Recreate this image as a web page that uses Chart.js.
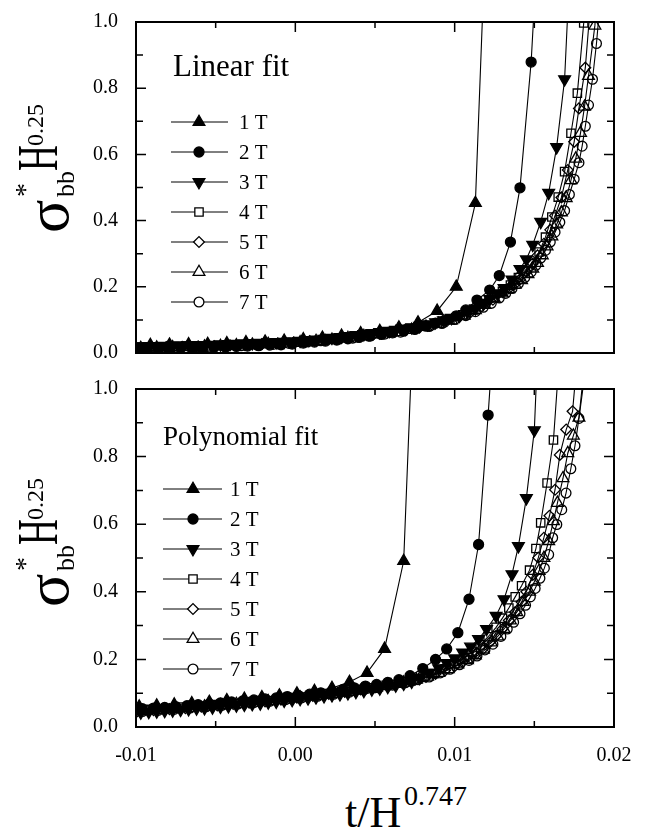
<!DOCTYPE html>
<html><head><meta charset="utf-8">
<script src="https://cdn.jsdelivr.net/npm/chart.js@4.4.1/dist/chart.umd.min.js"></script>
<style>
html,body{margin:0;padding:0;background:#fff}
body{width:650px;height:833px;position:relative;overflow:hidden;font-family:"Liberation Serif","Times New Roman",serif;color:#000}
canvas{position:absolute;left:0}
#cTop{top:0}
#cBot{top:367px}
.lab{position:absolute;white-space:nowrap;line-height:1}
.rot{position:absolute;width:240px;height:120px;transform:translate(-50%,-50%) rotate(-90deg)}
.rot span{position:absolute;line-height:1;white-space:nowrap}
</style></head><body>
<canvas id="cTop" width="650" height="380"></canvas>
<canvas id="cBot" width="650" height="413"></canvas>
<script>
// ---------------- DATA ----------------
const seriesLabels = ['1 T','2 T','3 T','4 T','5 T','6 T','7 T'];
const panelTitles = ['Linear fit','Polynomial fit'];
const xTickValues = [-0.01,-0.005,0,0.005,0.01,0.015,0.02];
const xTickLabels = ['-0.01','','0.00','','0.01','','0.02'];
const yTickValues = [0,0.1,0.2,0.3,0.4,0.5,0.6,0.7,0.8,0.9,1.0];
const yTickLabels = ['0.0','','0.2','','0.4','','0.6','','0.8','','1.0'];

// Linear fit panel
const lin1Tx = [-0.0103,-0.0091,-0.0079,-0.0067,-0.0055,-0.0043,-0.0031,-0.0019,-0.0007,0.0005,0.0017,0.0029,0.0041,0.0053,0.0065,0.0077,0.0089,0.0101,0.0113,0.0125];
const lin1Ty = [0.023,0.024,0.025,0.026,0.027,0.029,0.032,0.034,0.037,0.041,0.046,0.052,0.059,0.066,0.077,0.092,0.127,0.200,0.453,1.970];
const lin2Tx = [-0.0100,-0.0093,-0.0086,-0.0079,-0.0072,-0.0065,-0.0058,-0.0051,-0.0044,-0.0037,-0.0030,-0.0023,-0.0016,-0.0009,-0.0002,0.0005,0.0012,0.0019,0.0026,0.0033,0.0040,0.0047,0.0054,0.0061,0.0068,0.0075,0.0082,0.0088,0.0094,0.0101,0.0107,0.0114,0.0122,0.0128,0.0135,0.0141,0.0148,0.0154];
const lin2Ty = [0.012,0.013,0.013,0.014,0.015,0.016,0.016,0.017,0.018,0.020,0.021,0.022,0.024,0.025,0.027,0.030,0.033,0.036,0.039,0.043,0.047,0.051,0.056,0.061,0.066,0.073,0.081,0.090,0.100,0.112,0.130,0.160,0.190,0.234,0.335,0.499,0.879,1.400];
const lin3Tx = [-0.0102,-0.0097,-0.0092,-0.0087,-0.0082,-0.0077,-0.0072,-0.0067,-0.0062,-0.0057,-0.0052,-0.0047,-0.0042,-0.0037,-0.0032,-0.0027,-0.0022,-0.0017,-0.0012,-0.0007,-0.0002,0.0003,0.0008,0.0013,0.0018,0.0023,0.0028,0.0033,0.0038,0.0043,0.0048,0.0053,0.0058,0.0063,0.0068,0.0073,0.0078,0.0083,0.0088,0.0093,0.0098,0.0103,0.0108,0.0113,0.0118,0.0122,0.0127,0.0131,0.0136,0.0141,0.0145,0.0149,0.0154,0.0159,0.0164,0.0169,0.0174];
const lin3Ty = [0.020,0.020,0.021,0.021,0.022,0.022,0.023,0.023,0.024,0.024,0.025,0.026,0.027,0.028,0.029,0.030,0.031,0.032,0.033,0.034,0.035,0.037,0.039,0.041,0.043,0.046,0.048,0.051,0.054,0.057,0.060,0.063,0.067,0.070,0.074,0.078,0.082,0.087,0.093,0.099,0.106,0.113,0.124,0.135,0.149,0.163,0.180,0.196,0.222,0.254,0.283,0.327,0.396,0.484,0.622,0.827,1.340];
const lin4Tx = [-0.0099,-0.0089,-0.0079,-0.0069,-0.0059,-0.0049,-0.0039,-0.0029,-0.0019,-0.0009,0.0001,0.0011,0.0021,0.0031,0.0041,0.0051,0.0061,0.0071,0.0080,0.0089,0.0097,0.0105,0.0112,0.0119,0.0125,0.0130,0.0135,0.0140,0.0144,0.0148,0.0153,0.0157,0.0161,0.0165,0.0169,0.0173,0.0177,0.0181,0.0185];
const lin4Ty = [0.017,0.018,0.019,0.020,0.021,0.022,0.024,0.026,0.028,0.030,0.033,0.037,0.041,0.046,0.052,0.058,0.065,0.072,0.081,0.090,0.101,0.115,0.130,0.149,0.168,0.186,0.205,0.228,0.248,0.270,0.305,0.350,0.411,0.471,0.548,0.664,0.785,0.997,1.300];
const lin5Tx = [-0.0101,-0.0091,-0.0081,-0.0071,-0.0061,-0.0051,-0.0041,-0.0031,-0.0021,-0.0011,-0.0001,0.0009,0.0019,0.0029,0.0039,0.0049,0.0059,0.0069,0.0078,0.0087,0.0095,0.0103,0.0110,0.0117,0.0124,0.0130,0.0134,0.0137,0.0141,0.0145,0.0149,0.0152,0.0156,0.0160,0.0163,0.0167,0.0171,0.0175,0.0178,0.0182,0.0186];
const lin5Ty = [0.016,0.017,0.018,0.019,0.020,0.021,0.023,0.025,0.027,0.029,0.032,0.036,0.040,0.045,0.050,0.056,0.062,0.069,0.077,0.087,0.096,0.109,0.123,0.141,0.161,0.184,0.195,0.205,0.222,0.245,0.270,0.295,0.330,0.372,0.415,0.470,0.553,0.638,0.739,0.862,1.100];
const lin6Tx = [-0.0097,-0.0087,-0.0077,-0.0067,-0.0057,-0.0047,-0.0037,-0.0027,-0.0017,-0.0007,0.0003,0.0013,0.0023,0.0033,0.0043,0.0053,0.0063,0.0073,0.0082,0.0090,0.0098,0.0106,0.0113,0.0119,0.0125,0.0130,0.0134,0.0138,0.0142,0.0146,0.0149,0.0152,0.0155,0.0158,0.0161,0.0164,0.0167,0.0170,0.0173,0.0176,0.0179,0.01815,0.0184,0.0188,0.0191];
const lin6Ty = [0.015,0.016,0.017,0.018,0.019,0.021,0.023,0.025,0.027,0.029,0.032,0.036,0.040,0.045,0.051,0.057,0.063,0.070,0.079,0.088,0.098,0.113,0.129,0.145,0.164,0.180,0.193,0.206,0.220,0.238,0.255,0.272,0.295,0.322,0.352,0.388,0.425,0.468,0.522,0.587,0.665,0.744,0.837,0.989,1.200];
const lin7Tx = [-0.0104,-0.0094,-0.0084,-0.0074,-0.0064,-0.0054,-0.0044,-0.0034,-0.0024,-0.0014,-0.0004,0.0006,0.0016,0.0026,0.0036,0.0046,0.0056,0.0066,0.0075,0.0084,0.0092,0.0100,0.0107,0.0113,0.0118,0.0123,0.0128,0.0132,0.0136,0.0140,0.0144,0.0148,0.0151,0.0154,0.0157,0.0160,0.0163,0.0166,0.0169,0.0172,0.0175,0.0178,0.0180,0.0182,0.0184,0.01865,0.0189,0.0192];
const lin7Ty = [0.013,0.014,0.015,0.016,0.017,0.018,0.020,0.022,0.024,0.026,0.029,0.033,0.037,0.041,0.045,0.051,0.057,0.063,0.071,0.080,0.089,0.101,0.113,0.125,0.138,0.150,0.166,0.180,0.195,0.210,0.228,0.245,0.265,0.287,0.310,0.335,0.365,0.395,0.430,0.479,0.525,0.575,0.625,0.685,0.749,0.827,0.935,1.100];

// Polynomial fit panel
const poly1Tx = [-0.0109,-0.0098,-0.0087,-0.0076,-0.0065,-0.0054,-0.0043,-0.0032,-0.0021,-0.0010,0.0001,0.0012,0.0023,0.0034,0.0045,0.0056,0.0068,0.0080];
const poly1Ty = [0.056,0.060,0.063,0.066,0.070,0.074,0.079,0.083,0.088,0.093,0.099,0.106,0.115,0.133,0.160,0.231,0.491,1.920];
const poly2Tx = [-0.0103,-0.0096,-0.0089,-0.0082,-0.0075,-0.0068,-0.0061,-0.0054,-0.0047,-0.0040,-0.0033,-0.0026,-0.0019,-0.0012,-0.0005,0.0002,0.0009,0.0016,0.0023,0.0030,0.0037,0.0044,0.0051,0.0058,0.0065,0.0072,0.0080,0.0088,0.0095,0.0102,0.0109,0.0115,0.0121,0.0128];
const poly2Ty = [0.052,0.054,0.056,0.058,0.060,0.063,0.066,0.068,0.071,0.074,0.077,0.080,0.083,0.086,0.090,0.093,0.097,0.101,0.106,0.111,0.116,0.121,0.126,0.132,0.140,0.152,0.173,0.200,0.231,0.279,0.378,0.540,0.923,1.410];
const poly3Tx = [-0.0102,-0.0097,-0.0092,-0.0087,-0.0082,-0.0077,-0.0072,-0.0067,-0.0062,-0.0057,-0.0052,-0.0047,-0.0042,-0.0037,-0.0032,-0.0027,-0.0022,-0.0017,-0.0012,-0.0007,-0.0002,0.0003,0.0008,0.0013,0.0018,0.0023,0.0028,0.0033,0.0038,0.0043,0.0048,0.0053,0.0058,0.0063,0.0068,0.0073,0.0078,0.0084,0.0090,0.0095,0.0100,0.0105,0.0110,0.0115,0.0120,0.0126,0.0131,0.0136,0.0140,0.0145,0.0150,0.0155];
const poly3Ty = [0.042,0.043,0.045,0.046,0.048,0.049,0.051,0.053,0.055,0.056,0.058,0.060,0.062,0.064,0.066,0.068,0.070,0.073,0.075,0.078,0.080,0.083,0.085,0.088,0.091,0.094,0.097,0.100,0.104,0.107,0.111,0.114,0.119,0.123,0.128,0.134,0.145,0.160,0.174,0.189,0.203,0.220,0.238,0.260,0.290,0.329,0.378,0.452,0.535,0.677,0.878,1.450];
const poly4Tx = [-0.0101,-0.0091,-0.0081,-0.0071,-0.0061,-0.0051,-0.0041,-0.0031,-0.0021,-0.0011,-0.0001,0.0009,0.0019,0.0029,0.0039,0.0048,0.0057,0.0065,0.0073,0.0080,0.0087,0.0094,0.0100,0.0106,0.0111,0.0116,0.0121,0.0126,0.0130,0.0134,0.0138,0.0142,0.0147,0.0151,0.0154,0.0158,0.0162,0.0165];
const poly4Ty = [0.049,0.052,0.055,0.059,0.062,0.066,0.070,0.074,0.078,0.082,0.087,0.093,0.098,0.104,0.110,0.116,0.123,0.130,0.138,0.147,0.158,0.172,0.187,0.205,0.222,0.243,0.267,0.295,0.322,0.352,0.385,0.418,0.464,0.528,0.604,0.722,0.849,1.050];
const poly5Tx = [-0.0099,-0.0089,-0.0079,-0.0069,-0.0059,-0.0049,-0.0039,-0.0029,-0.0019,-0.0009,0.0001,0.0011,0.0021,0.0031,0.0041,0.0050,0.0059,0.0067,0.0075,0.0082,0.0088,0.0094,0.0100,0.0105,0.0110,0.0114,0.0118,0.0122,0.0126,0.0130,0.0134,0.0138,0.0142,0.0145,0.0149,0.01525,0.0156,0.01595,0.0163,0.0166,0.0170,0.0174,0.0178];
const poly5Ty = [0.047,0.050,0.053,0.056,0.060,0.064,0.068,0.072,0.076,0.081,0.087,0.092,0.098,0.104,0.111,0.117,0.124,0.131,0.139,0.148,0.157,0.167,0.180,0.192,0.205,0.218,0.232,0.250,0.270,0.290,0.315,0.340,0.370,0.400,0.450,0.501,0.560,0.625,0.702,0.805,0.880,0.934,1.150];
const poly6Tx = [-0.0107,-0.0097,-0.0087,-0.0077,-0.0067,-0.0057,-0.0047,-0.0037,-0.0027,-0.0017,-0.0007,0.0003,0.0013,0.0023,0.0033,0.0042,0.0051,0.0060,0.0068,0.0076,0.0083,0.0090,0.0096,0.0102,0.0108,0.0113,0.0118,0.0123,0.0127,0.0131,0.0135,0.0139,0.0143,0.0147,0.0150,0.0153,0.0156,0.0159,0.0162,0.01645,0.0168,0.0171,0.01745,0.0178,0.0181];
const poly6Ty = [0.044,0.047,0.050,0.053,0.056,0.060,0.064,0.068,0.072,0.076,0.081,0.087,0.092,0.098,0.104,0.110,0.117,0.124,0.131,0.140,0.149,0.160,0.171,0.185,0.198,0.212,0.229,0.250,0.268,0.290,0.315,0.340,0.370,0.400,0.430,0.462,0.500,0.550,0.609,0.663,0.736,0.810,0.862,0.915,1.050];
const poly7Tx = [-0.0106,-0.0096,-0.0086,-0.0076,-0.0066,-0.0056,-0.0046,-0.0036,-0.0026,-0.0016,-0.0006,0.0004,0.0014,0.0024,0.0034,0.0043,0.0052,0.0061,0.0069,0.0077,0.0084,0.0091,0.0097,0.0103,0.0109,0.0114,0.0119,0.0124,0.0129,0.0133,0.0137,0.0141,0.01445,0.01475,0.01505,0.01535,0.01563,0.0159,0.01615,0.01641,0.01672,0.01699,0.01729,0.01755,0.0178,0.0181,0.0184];
const poly7Ty = [0.043,0.046,0.049,0.052,0.056,0.060,0.064,0.068,0.072,0.076,0.081,0.086,0.091,0.097,0.103,0.110,0.116,0.124,0.131,0.140,0.148,0.160,0.171,0.184,0.197,0.210,0.228,0.245,0.268,0.290,0.310,0.335,0.360,0.385,0.410,0.440,0.470,0.510,0.560,0.599,0.643,0.692,0.764,0.832,0.913,1.020,1.200];

// ---------------- STYLE ----------------
const FONT = '"Liberation Serif","Times New Roman",serif';
const markers = [
  {style:'triangle', rot:0,   r:6.8, fill:'#000', legFill:'#000'},
  {style:'circle',   rot:0,   r:5.0, fill:'#000', legFill:'#000'},
  {style:'triangle', rot:180, r:6.8, fill:'#000', legFill:'#000'},
  {style:'rect',     rot:0,   r:5.9, fill:'rgba(255,255,255,0)', legFill:'#fff'},
  {style:'rectRot',  rot:0,   r:5.4, fill:'rgba(255,255,255,0)', legFill:'#fff'},
  {style:'triangle', rot:0,   r:6.8, fill:'rgba(255,255,255,0)', legFill:'#fff'},
  {style:'circle',   rot:0,   r:4.9, fill:'rgba(255,255,255,0)', legFill:'#fff'}
];

function pairs(xs, ys){
  const n = Math.min(xs.length, ys.length), out = [];
  for (let i = 0; i < n; i++) out.push({x: xs[i], y: ys[i]});
  return out;
}
function makeDatasets(xsList, ysList){
  return seriesLabels.map((lab, i) => ({
    label: lab,
    data: pairs(xsList[i], ysList[i]),
    showLine: true,
    borderColor: '#000',
    borderWidth: 1.1,
    tension: 0,
    pointStyle: markers[i].style,
    pointRotation: markers[i].rot,
    pointRadius: markers[i].r,
    pointHoverRadius: markers[i].r,
    pointBackgroundColor: markers[i].fill,
    pointBorderColor: '#000',
    pointBorderWidth: 1.3
  }));
}

const framePlugin = {
  id: 'frame',
  afterDraw(chart, args, o) {
    const {ctx, chartArea: a, scales: {x, y}} = chart;
    ctx.save();
    ctx.strokeStyle = '#000';
    ctx.lineWidth = 1.5;
    xTickValues.forEach((v, i) => {
      const p = x.getPixelForValue(v), L = (i % 2 === 0) ? 10 : 6;
      ctx.beginPath();
      ctx.moveTo(p, a.bottom); ctx.lineTo(p, a.bottom - L);
      ctx.moveTo(p, a.top); ctx.lineTo(p, a.top + L);
      ctx.stroke();
    });
    yTickValues.forEach((v, i) => {
      const p = y.getPixelForValue(v), L = (i % 2 === 0) ? 10 : 7;
      ctx.beginPath();
      ctx.moveTo(a.left, p); ctx.lineTo(a.left + L, p);
      ctx.moveTo(a.right, p); ctx.lineTo(a.right - L, p);
      ctx.stroke();
    });
    ctx.lineWidth = 2;
    ctx.strokeRect(a.left, a.top, a.right - a.left, a.bottom - a.top);
    // title
    ctx.fillStyle = '#000';
    ctx.textAlign = 'left';
    ctx.textBaseline = 'alphabetic';
    ctx.font = o.titleSize + 'px ' + FONT;
    ctx.fillText(o.title, a.left + o.titleDx, a.top + o.titleDy);
    // legend
    ctx.font = '21px ' + FONT;
    ctx.textBaseline = 'middle';
    chart.data.datasets.forEach((ds, i) => {
      const yy = a.top + o.legDy + i * o.legStep;
      ctx.strokeStyle = '#000';
      ctx.lineWidth = 1;
      ctx.beginPath();
      ctx.moveTo(a.left + o.legX0, yy); ctx.lineTo(a.left + o.legX1, yy);
      ctx.stroke();
      ctx.fillStyle = markers[i].legFill;
      ctx.lineWidth = 1.3;
      Chart.helpers.drawPoint(ctx, {pointStyle: markers[i].style, rotation: markers[i].rot, radius: markers[i].r, borderWidth: 1.3}, a.left + o.legXm, yy);
      ctx.fillStyle = '#000';
      ctx.fillText(ds.label, a.left + o.legXt, yy + 1);
    });
    ctx.restore();
  }
};

function makeChart(id, xsList, ysList, showX, padTop, xHeight, deco) {
  return new Chart(document.getElementById(id), {
    type: 'scatter',
    data: {datasets: makeDatasets(xsList, ysList)},
    options: {
      responsive: false, animation: false, devicePixelRatio: 1,
      layout: {padding: {left: 0, right: 36, top: padTop, bottom: 0}},
      plugins: {legend: {display: false}, tooltip: {enabled: false}, frame: deco},
      scales: {
        x: {
          type: 'linear', min: -0.01, max: 0.02,
          grid: {display: false}, border: {display: false},
          afterBuildTicks: s => { s.ticks = xTickValues.filter((v, i) => i % 2 === 0).map(v => ({value: v})); },
          afterFit: s => { s.height = xHeight; },
          ticks: {display: showX, color: '#000', font: {family: FONT, size: 20}, padding: 9, maxRotation: 0,
                  callback: v => xTickLabels[xTickValues.findIndex(t => Math.abs(t - v) < 1e-9)] }
        },
        y: {
          type: 'linear', min: 0, max: 1,
          grid: {display: false}, border: {display: false},
          afterBuildTicks: s => { s.ticks = yTickValues.filter((v, i) => i % 2 === 0).map(v => ({value: v})); },
          afterFit: s => { s.width = 136; },
          ticks: {color: '#000', font: {family: FONT, size: 20}, padding: 10,
                  callback: v => yTickLabels[yTickValues.findIndex(t => Math.abs(t - v) < 1e-9)] }
        }
      }
    },
    plugins: [framePlugin]
  });
}

makeChart('cTop',
  [lin1Tx, lin2Tx, lin3Tx, lin4Tx, lin5Tx, lin6Tx, lin7Tx],
  [lin1Ty, lin2Ty, lin3Ty, lin4Ty, lin5Ty, lin6Ty, lin7Ty],
  false, 13, 27,
  {title: panelTitles[0], titleSize: 31, titleDx: 37, titleDy: 54, legDy: 100, legStep: 30, legX0: 35, legX1: 92, legXm: 63, legXt: 103});
makeChart('cBot',
  [poly1Tx, poly2Tx, poly3Tx, poly4Tx, poly5Tx, poly6Tx, poly7Tx],
  [poly1Ty, poly2Ty, poly3Ty, poly4Ty, poly5Ty, poly6Ty, poly7Ty],
  true, 20, 53,
  {title: panelTitles[1], titleSize: 27, titleDx: 27, titleDy: 56, legDy: 100, legStep: 30, legX0: 27, legX1: 86, legXm: 57, legXt: 94});

// ---------------- AXIS TITLES (HTML text) ----------------
function addYLabel(cx, cy) {
  const box = document.createElement('div');
  box.className = 'rot';
  box.style.left = cx + 'px';
  box.style.top = cy + 'px';
  const pieces = [
    ['σ', -63, 21, 62, 1],
    ['*', -27, -13, 28, 1],
    ['bb', -27, 28, 26, 1],
    ['H', -1, 10, 56, 0.64],
    ['0.25', 24, -4, 24, 1]
  ];
  pieces.forEach(([t, u, v, fs, sx]) => {
    const s = document.createElement('span');
    s.textContent = t;
    s.style.fontSize = fs + 'px';
    s.style.left = (120 + u) + 'px';
    s.style.top = (60 + v - 0.8375 * fs) + 'px';
    if (sx !== 1) { s.style.transformOrigin = 'left'; s.style.transform = 'scaleX(' + sx + ')'; }
    box.appendChild(s);
  });
  document.body.appendChild(box);
}
addYLabel(47, 170);
addYLabel(47, 544);

function addText(t, left, baseline, fs) {
  const s = document.createElement('div');
  s.className = 'lab';
  s.textContent = t;
  s.style.fontSize = fs + 'px';
  s.style.left = left + 'px';
  s.style.top = (baseline - 0.8375 * fs) + 'px';
  document.body.appendChild(s);
}
addText('t/H', 345, 828, 44);
addText('0.747', 404, 805, 28);
</script>
</body></html>
